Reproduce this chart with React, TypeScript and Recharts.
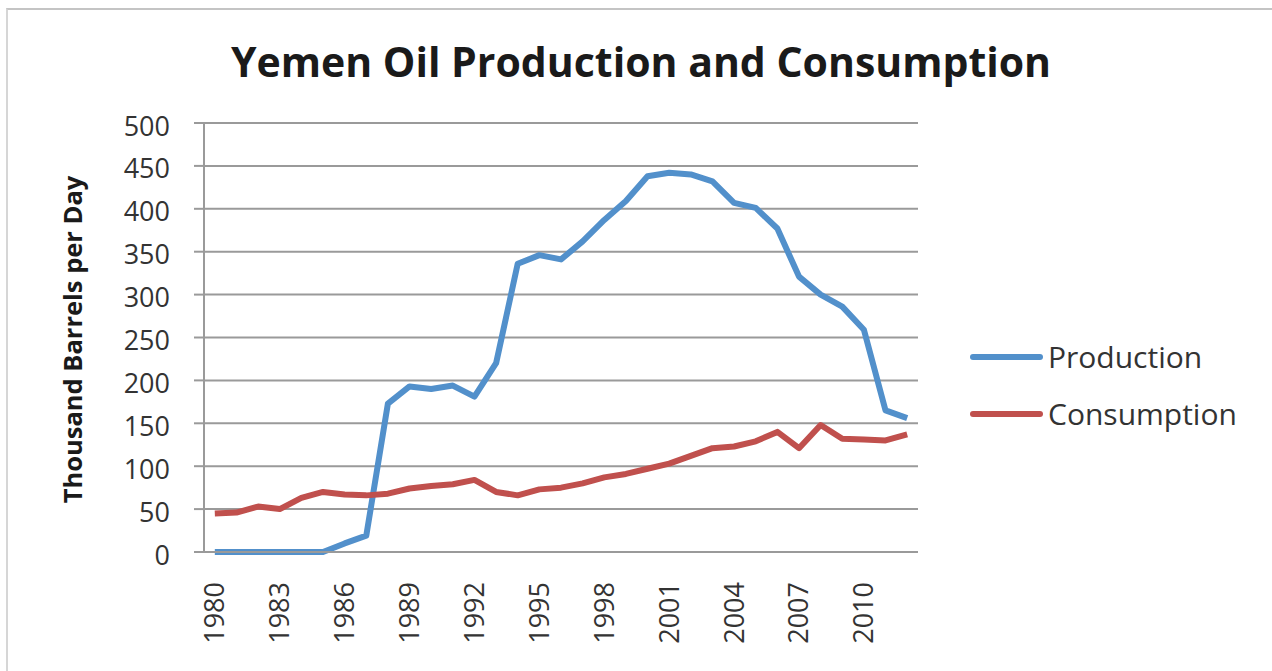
import {
  CartesianGrid,
  Label,
  Legend,
  Line,
  LineChart,
  XAxis,
  YAxis,
} from 'recharts'

const years = [
  1980, 1981, 1982, 1983, 1984, 1985, 1986, 1987, 1988, 1989, 1990, 1991,
  1992, 1993, 1994, 1995, 1996, 1997, 1998, 1999, 2000, 2001, 2002, 2003,
  2004, 2005, 2006, 2007, 2008, 2009, 2010, 2011, 2012,
]

const production = [
  0, 0, 0, 0, 0, 0, 10, 19, 173, 193, 190, 194, 181, 220, 336, 346, 341, 362,
  387, 409, 438, 442, 440, 432, 407, 401, 377, 321, 300, 286, 259, 165, 156,
]

const consumption = [
  45, 46, 53, 50, 63, 70, 67, 66, 68, 74, 77, 79, 84, 70, 66, 73, 75, 80, 87,
  91, 97, 103, 112, 121, 123, 129, 140, 121, 148, 132, 131, 130, 137,
]

const yearLabels = [1980, 1983, 1986, 1989, 1992, 1995, 1998, 2001, 2004, 2007, 2010]
const yTicks = [0, 50, 100, 150, 200, 250, 300, 350, 400, 450, 500]

const SERIES = [
  { key: 'production', label: 'Production', color: '#5290cb' },
  { key: 'consumption', label: 'Consumption', color: '#c0504d' },
]

const FONT = '"Open Sans", "Noto Sans", sans-serif'
const AXIS_GRAY = '#9a9a9a'

const data = years.map((year, i) => ({
  year,
  production: production[i],
  consumption: consumption[i],
}))

// tick marks sit between the categories, like Excel does
const boundaryTicks = [...years.map((y) => y - 0.5), years[years.length - 1] + 0.5]
const xDomain = [boundaryTicks[0], boundaryTicks[boundaryTicks.length - 1]]

function YearTick({ x, y, payload }: any) {
  const ty = y + 20
  return (
    <text
      x={x}
      y={ty}
      transform={`rotate(-90 ${x} ${ty})`}
      textAnchor="end"
      dy="0.35em"
      fontSize={27}
      fontFamily={FONT}
      fill="#333"
    >
      {payload.value}
    </text>
  )
}

function LegendBox() {
  return (
    <div style={{ fontFamily: FONT }}>
      {SERIES.map((s) => (
        <div key={s.key} style={{ display: 'flex', alignItems: 'center', height: 57 }}>
          <svg width={78} height={12} style={{ display: 'block' }}>
            <line x1={5} y1={6} x2={72} y2={6} stroke={s.color} strokeWidth={6} strokeLinecap="round" />
          </svg>
          <span style={{ marginLeft: 2, fontSize: 30, color: '#333', lineHeight: 1 }}>{s.label}</span>
        </div>
      ))}
    </div>
  )
}

export default function App() {
  return (
    <div
      style={{
        position: 'absolute',
        left: 0,
        top: 0,
        width: 1272,
        height: 671,
        background: '#fff',
        overflow: 'hidden',
      }}
    >
      <div
        style={{
          position: 'absolute',
          left: 6,
          top: 8,
          right: -4,
          bottom: -4,
          borderTop: '2px solid #c4c4c4',
          borderLeft: '2px solid #d6d6d6',
        }}
      />
      <div
        style={{
          position: 'absolute',
          left: 0,
          width: 1282,
          top: 37,
          textAlign: 'center',
          fontFamily: FONT,
          fontWeight: 700,
          fontSize: 41,
          color: '#1a1a1a',
          lineHeight: 1.2,
        }}
      >
        Yemen Oil Production and Consumption
      </div>
      <div style={{ position: 'absolute', left: 0, top: 0 }}>
        <LineChart
          width={1272}
          height={671}
          data={data}
          margin={{ top: 123, right: 354, bottom: 0, left: 0 }}
        >
          <CartesianGrid vertical={false} stroke={AXIS_GRAY} strokeWidth={2} />
          <XAxis
            dataKey="year"
            type="number"
            domain={xDomain}
            allowDataOverflow
            ticks={boundaryTicks}
            tick={false}
            tickSize={8}
            height={10}
            axisLine={{ stroke: AXIS_GRAY, strokeWidth: 2 }}
            tickLine={{ stroke: AXIS_GRAY, strokeWidth: 2 }}
          />
          <XAxis
            xAxisId="labels"
            dataKey="year"
            type="number"
            domain={xDomain}
            allowDataOverflow
            ticks={yearLabels}
            interval={0}
            tick={<YearTick />}
            tickSize={0}
            tickMargin={0}
            height={109}
            axisLine={false}
            tickLine={false}
          />
          <YAxis
            type="number"
            domain={[0, 500]}
            ticks={yTicks}
            interval={0}
            width={204}
            tickSize={10}
            tickMargin={24}
            axisLine={{ stroke: AXIS_GRAY, strokeWidth: 2 }}
            tickLine={{ stroke: AXIS_GRAY, strokeWidth: 2 }}
            tick={{ fontSize: 27, fontFamily: FONT, fill: '#333', dy: 3 }}
          >
            <Label
              content={({ viewBox }: any) => {
                const cx = viewBox.x + 73
                const cy = viewBox.y + viewBox.height / 2 + 2
                return (
                  <text
                    x={cx}
                    y={cy}
                    transform={`rotate(-90 ${cx} ${cy})`}
                    textAnchor="middle"
                    dy="0.35em"
                    fontSize={25.5}
                    fontWeight={700}
                    fontFamily={FONT}
                    fill="#1a1a1a"
                  >
                    Thousand Barrels per Day
                  </text>
                )
              }}
            />
          </YAxis>
          <Legend
            layout="horizontal"
            verticalAlign="middle"
            align="center"
            content={<LegendBox />}
            wrapperStyle={{ left: 968, top: 328, width: 300 }}
          />
          {SERIES.map((s) => (
            <Line
              key={s.key}
              type="linear"
              dataKey={s.key}
              name={s.label}
              stroke={s.color}
              strokeWidth={6}
              strokeLinejoin="round"
              dot={false}
              activeDot={false}
              isAnimationActive={false}
            />
          ))}
        </LineChart>
      </div>
    </div>
  )
}
